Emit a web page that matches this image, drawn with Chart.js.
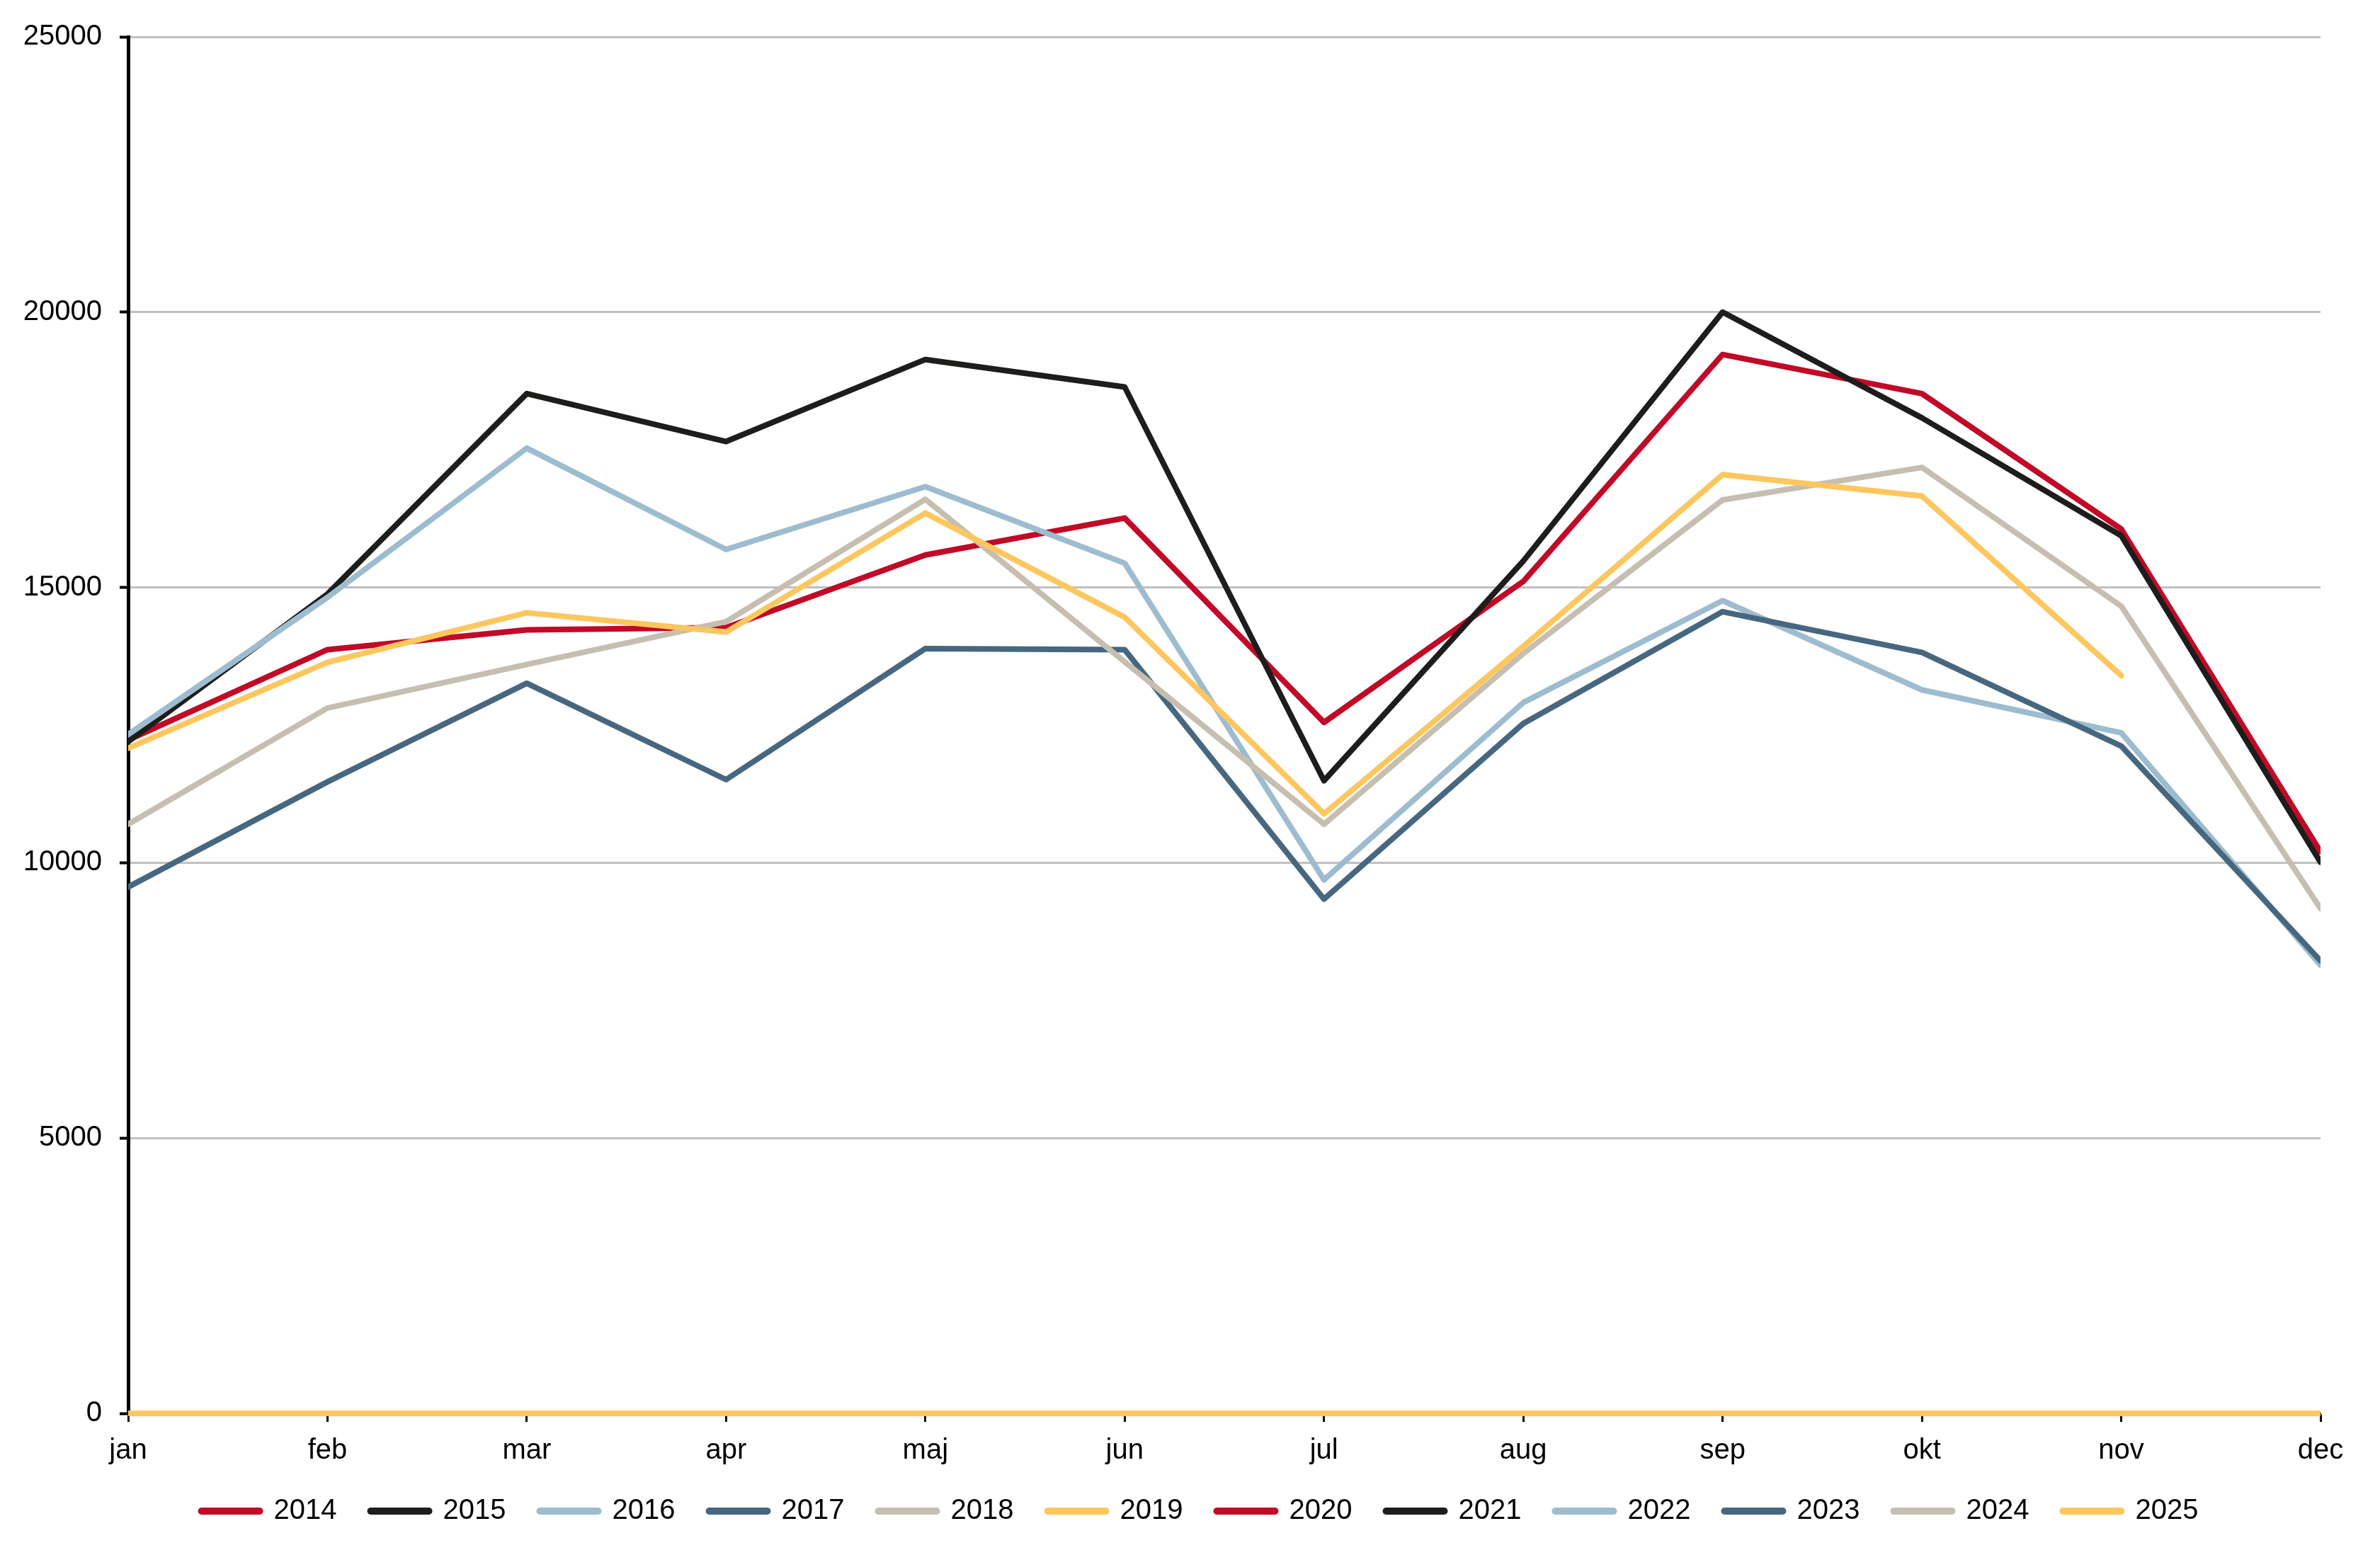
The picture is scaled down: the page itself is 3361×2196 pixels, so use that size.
<!DOCTYPE html>
<html>
<head>
<meta charset="utf-8">
<script src="https://cdn.jsdelivr.net/npm/chart.js@4/dist/chart.umd.min.js"></script>
<style>
  body { margin: 0; background: #fff; }
  canvas { display: block; }
</style>
</head>
<body>
<canvas id="myChart" width="3361" height="2196"></canvas>
<script>
const months = ['jan', 'feb', 'mar', 'apr', 'maj', 'jun', 'jul', 'aug', 'sep', 'okt', 'nov', 'dec'];
const years = ['2014', '2015', '2016', '2017', '2018', '2019', '2020', '2021', '2022', '2023', '2024', '2025'];
const yTicks = [0, 5000, 10000, 15000, 20000, 25000];

const y2014 = [0, 0, 0, 0, 0, 0, 0, 0, 0, 0, 0, 0];
const y2015 = [0, 0, 0, 0, 0, 0, 0, 0, 0, 0, 0, 0];
const y2016 = [0, 0, 0, 0, 0, 0, 0, 0, 0, 0, 0, 0];
const y2017 = [0, 0, 0, 0, 0, 0, 0, 0, 0, 0, 0, 0];
const y2018 = [0, 0, 0, 0, 0, 0, 0, 0, 0, 0, 0, 0];
const y2019 = [0, 0, 0, 0, 0, 0, 0, 0, 0, 0, 0, 0];
const y2020 = [12230, 13870, 14230, 14270, 15590, 16260, 12550, 15110, 19230, 18520, 16060, 10200];
const y2021 = [12200, 14880, 18520, 17650, 19140, 18640, 11490, 15480, 20000, 18080, 15940, 10010];
const y2022 = [12330, 14820, 17530, 15690, 16830, 15440, 9690, 12910, 14760, 13140, 12360, 8140];
const y2023 = [9560, 11470, 13260, 11510, 13890, 13870, 9340, 12530, 14560, 13820, 12120, 8220];
const y2024 = [10700, 12810, 13600, 14380, 16600, 13650, 10700, 13800, 16590, 17180, 14660, 9170];
const y2025 = [12080, 13640, 14540, 14190, 16350, 14460, 10890, 13930, 17050, 16660, 13400, null];

const values = [y2014, y2015, y2016, y2017, y2018, y2019, y2020, y2021, y2022, y2023, y2024, y2025];
const colors = ['#c00a27', '#1d1d1b', '#9dbccf', '#46677f', '#c6beb1', '#fdc75f'];

const font = { family: '"Liberation Sans", Arial, sans-serif', size: 40 };

const datasets = years.map(function (yr, i) {
  return {
    label: yr,
    data: values[i],
    borderColor: colors[i % 6],
    backgroundColor: colors[i % 6],
    borderWidth: 8,
    borderCapStyle: 'round',
    borderJoinStyle: 'round',
    pointRadius: 0,
    tension: 0,
    fill: false,
    order: -i,
    clip: { left: 0, right: 0, top: 10, bottom: 10 }
  };
});

// nudge the legend so it sits where the original one does
const legendShift = {
  id: 'legendShift',
  afterLayout: function (c) {
    const lg = c.legend;
    if (!lg) return;
    lg.left += 56; lg.right += 56;
    lg.top -= 7; lg.bottom -= 7;
  }
};

const ctx = document.getElementById('myChart').getContext('2d');
const chart = new Chart(ctx, {
  type: 'line',
  data: { labels: months, datasets: datasets },
  plugins: [legendShift],
  options: {
    responsive: false,
    devicePixelRatio: 1,
    animation: false,
    layout: { padding: { left: 0, right: 84, top: 52, bottom: 25 } },
    plugins: {
      tooltip: { enabled: false },
      legend: {
        position: 'bottom',
        labels: {
          font: font,
          color: '#000',
          usePointStyle: true,
          pointStyleWidth: 82,
          padding: 48,
          sort: function (a, b) { return a.datasetIndex - b.datasetIndex; },
          generateLabels: function (c) {
            const items = Chart.defaults.plugins.legend.labels.generateLabels(c);
            items.forEach(function (it) {
              it.pointStyle = 'line';
              it.lineWidth = 10;
              it.lineCap = 'round';
            });
            return items;
          }
        }
      }
    },
    scales: {
      x: {
        grid: { drawOnChartArea: false, tickColor: '#000', tickWidth: 3, tickLength: 12 },
        border: { color: '#000', width: 3 },
        ticks: { font: font, color: '#000', padding: 17, maxRotation: 0, autoSkip: false },
        afterFit: function (s) { s.height = 77; }
      },
      y: {
        min: 0,
        max: 25000,
        afterBuildTicks: function (s) { s.ticks = yTicks.map(function (v) { return { value: v }; }); },
        grid: { color: '#c0c0c0', lineWidth: 3, tickColor: '#000', tickWidth: 4, tickLength: 12 },
        border: { color: '#000', width: 5 },
        ticks: {
          font: font,
          color: '#000',
          padding: 25,
          callback: function (v) { return String(v); }
        },
        afterFit: function (s) { s.width = 181; }
      }
    }
  }
});
</script>
</body>
</html>
